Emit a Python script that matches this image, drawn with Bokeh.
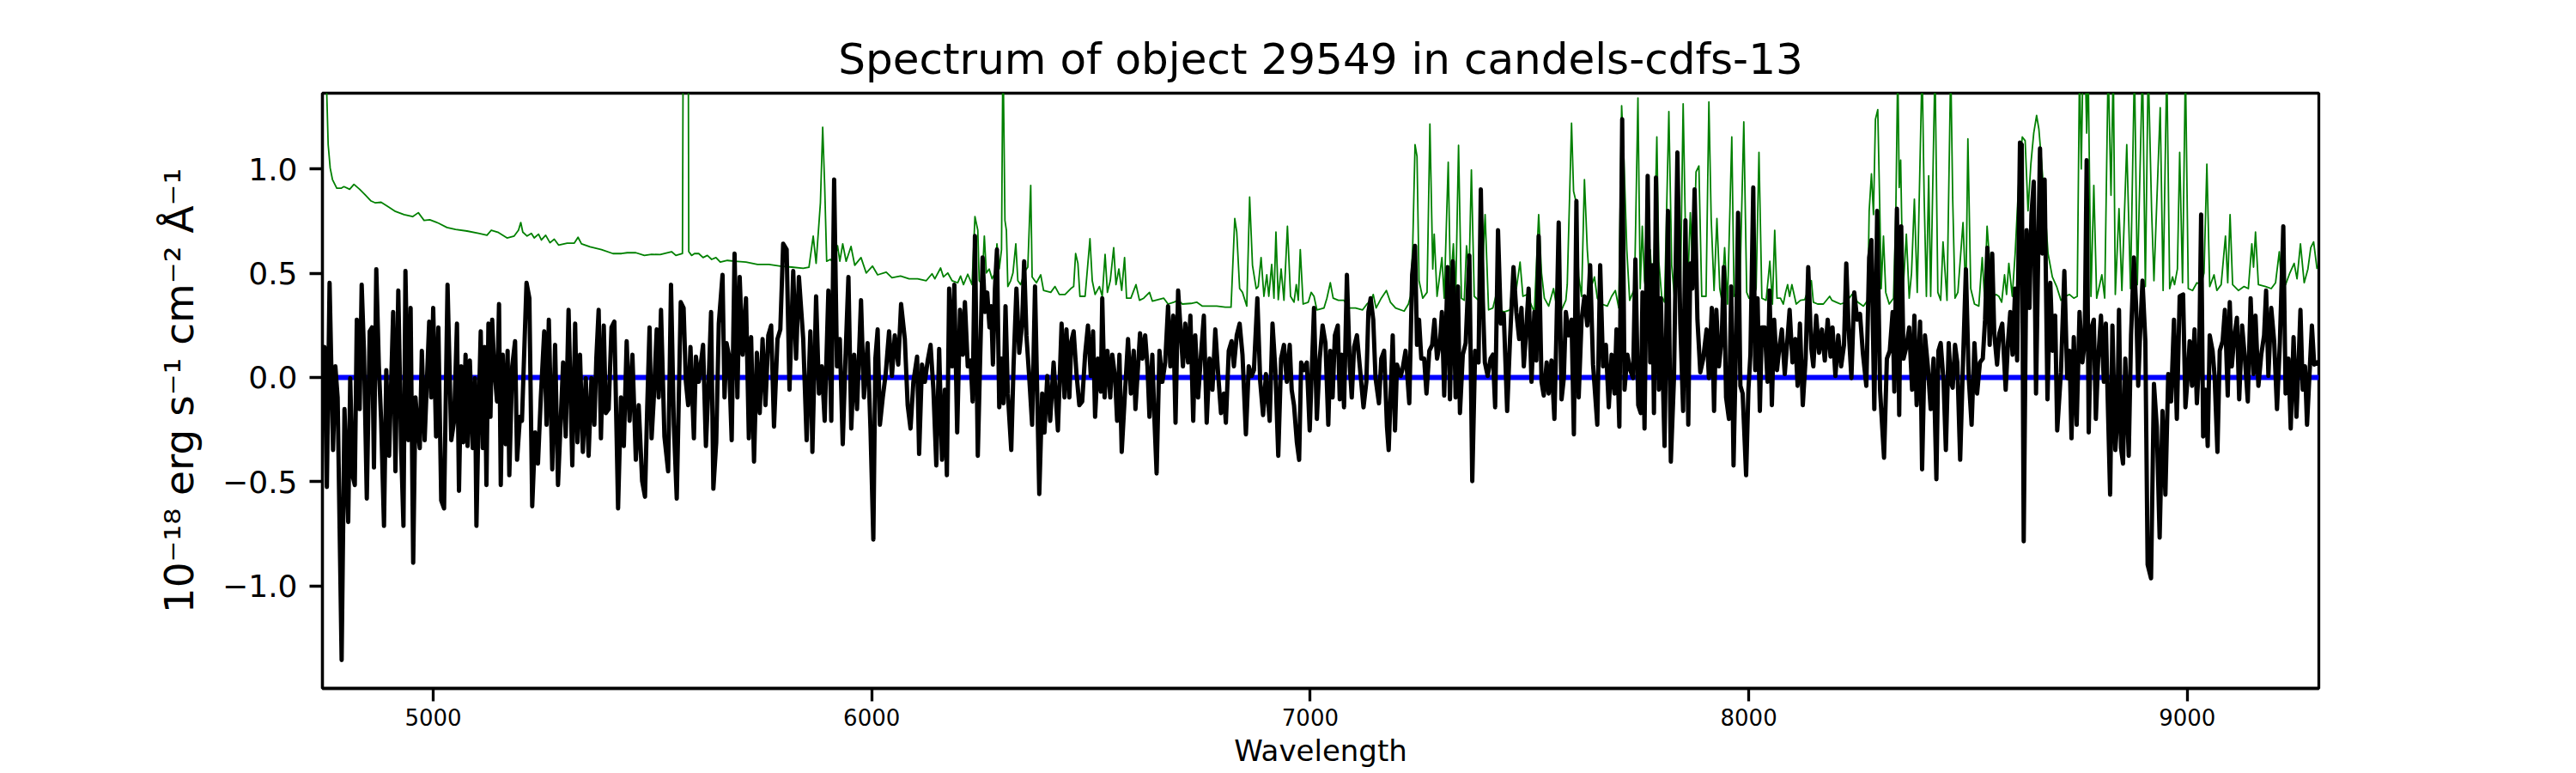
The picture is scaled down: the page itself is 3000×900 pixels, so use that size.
from bokeh.plotting import figure
from bokeh.models import Range1d, FixedTicker, CustomJSTickFormatter
from bokeh.embed import file_html
from bokeh.resources import INLINE

title_text = "Spectrum of object 29549 in candels-cdfs-13"
x_label = "Wavelength"
y_label = "10\u207b\u00b9\u2078 erg s\u207b\u00b9 cm\u207b\u00b2 \u00c5\u207b\u00b9"
x_ticks = [5000, 6000, 7000, 8000, 9000]
y_ticks = [-1.0, -0.5, 0.0, 0.5, 1.0]

# observed spectrum (black)
black_wave = [
 4747.5,4752.1,4757.5,4763.7,4771.6,4776.9,4782.1,4791.2,4797.7,4806.2,4810.8,4816.0,4821.2,4825.8,4832.3,4836.9,
 4842.1,4848.6,4855.2,4860.4,4864.9,4870.2,4876.1,4881.3,4887.8,4893.0,4899.5,4908.7,4913.9,4920.4,4926.9,4932.2,
 4936.7,4943.3,4948.5,4954.4,4959.6,4964.8,4969.4,4974.1,4980.5,4990.9,4995.5,5000.0,5006.6,5011.8,5018.3,5024.8,
 5032.7,5041.2,5047.7,5054.2,5058.8,5064.0,5068.6,5073.8,5078.4,5083.6,5090.1,5095.3,5098.6,5103.2,5108.4,5113.0,
 5117.5,5121.4,5126.0,5130.6,5134.5,5139.0,5145.6,5150.1,5154.1,5158.6,5165.2,5169.7,5173.6,5180.2,5186.7,5191.3,
 5197.8,5202.4,5212.8,5219.3,5225.8,5232.4,5238.9,5245.4,5253.2,5258.5,5263.7,5271.5,5278.0,5284.6,5291.1,5296.3,
 5302.2,5308.7,5317.2,5323.7,5329.0,5334.8,5341.3,5347.9,5354.4,5360.9,5367.5,5372.0,5377.3,5382.5,5389.0,5393.6,
 5400.1,5406.6,5413.1,5421.6,5428.2,5434.7,5441.2,5447.8,5454.3,5462.1,5468.6,5476.5,5483.0,5488.2,5493.4,5498.0,
 5503.1,5509.7,5514.2,5519.5,5527.3,5535.8,5542.3,5548.8,5555.4,5564.5,5571.0,5576.2,5581.5,5586.7,5594.5,5599.1,
 5605.6,5615.4,5621.9,5628.4,5633.7,5638.9,5645.4,5651.3,5659.8,5664.3,5668.9,5674.1,5680.7,5687.2,5693.7,5698.9,
 5705.5,5713.3,5719.8,5725.0,5731.6,5738.1,5744.6,5751.1,5757.7,5764.2,5770.7,5777.2,5785.1,5791.6,5798.1,5806.0,
 5812.5,5821.0,5827.5,5834.0,5843.8,5851.6,5860.1,5864.7,5873.2,5879.7,5886.2,5892.7,5901.2,5907.8,5914.3,5920.8,
 5927.3,5933.9,5940.4,5946.9,5953.4,5960.0,5966.5,5975.6,5982.2,5990.6,5997.2,6003.7,6008.3,6013.5,6018.7,6025.2,
 6031.8,6039.6,6046.1,6052.6,6060.5,6067.0,6075.5,6082.0,6088.5,6095.0,6103.5,6108.1,6114.6,6121.2,6127.7,6134.2,
 6140.7,6147.3,6153.8,6160.3,6166.8,6171.4,6176.6,6183.2,6188.4,6194.9,6201.4,6208.0,6212.5,6219.0,6225.6,6230.1,
 6235.4,6241.9,
 6252.9,6258.2,6263.4,6268.6,6272.5,6276.4,6281.0,6285.6,6290.8,6296.0,6300.6,6305.1,6310.4,6318.2,6323.4,6330.0,
 6336.5,6343.0,6347.6,6352.8,6359.3,6365.8,6372.4,6382.1,6388.7,6393.9,6400.4,6407.0,6414.8,6424.6,6433.0,6439.6,
 6444.1,6450.7,6455.2,6460.5,6467.0,6473.5,6480.0,6486.6,6493.1,6499.6,6504.8,6509.4,6515.9,6522.5,6525.7,6531.0,
 6537.5,6544.0,6548.6,6555.1,6559.6,6564.9,6570.1,6577.9,6584.5,6591.0,6597.5,6601.4,6607.3,6611.9,6617.1,6623.6,
 6628.8,6633.4,6639.9,6644.5,6649.7,6656.2,6662.8,6669.3,6675.8,6681.0,6687.6,6692.8,6698.7,6705.2,6709.7,6715.0,
 6721.5,6726.7,6733.2,6737.8,6744.3,6750.9,6757.4,6763.9,6770.4,6777.0,6783.5,6790.0,6796.5,6803.1,6807.6,6814.2,
 6820.7,6825.9,6832.4,6839.0,6845.5,6853.3,6859.8,6866.4,6871.6,6879.4,6886.0,6892.5,6899.0,6907.5,6914.0,6920.5,
 6927.1,6933.6,6940.1,6946.6,6953.2,6957.7,6963.0,6969.5,6974.7,6979.3,6985.8,6992.3,6998.8,
 7008.6,7015.1,7021.6,7028.2,7034.7,7041.2,7045.8,7051.0,7056.2,7062.8,7067.3,7071.9,7077.1,7083.6,7090.2,7094.7,
 7100.0,7106.5,7113.0,7121.5,7128.0,7132.6,7137.8,7143.7,7148.9,7156.7,7162.0,7168.5,7175.0,7178.9,7188.1,7193.3,
 7197.8,7206.3,7210.9,7217.4,7225.9,7232.4,7239.0,7243.5,7248.1,7253.3,7259.8,7265.1,7271.6,7278.1,7283.3,7289.2,
 7295.7,7300.3,7305.5,7313.4,7318.6,7325.1,7331.6,7336.8,7341.4,7347.9,7354.5,7362.9,7369.5,7376.0,7383.8,7389.0,
 7393.6,7398.2,7404.7,7411.2,7416.5,7421.7,7428.2,7434.7,7441.3,7449.1,7455.6,7463.5,7470.0,7476.5,7481.7,7487.0,
 7491.5,7498.0,7504.6,7511.1,7515.7,7520.9,7527.4,7532.6,7539.2,7543.7,7550.2,7556.8,7561.3,7566.6,7573.1,7578.3,
 7582.9,7589.4,7595.9,7601.2,7607.0,7612.2,7618.8,7625.3,7631.8,7638.3,7644.9,7654.6,7661.2,7667.7,7674.2,7680.8,
 7687.3,7693.8,7698.4,7704.9,7711.4,7716.7,7723.2,7729.7,7736.2,7741.5,7748.0,
 7753.8,7757.7,7762.3,7769.5,7775.3,7779.9,7783.8,7788.4,7794.9,7799.5,7808.0,7815.8,7822.3,7829.5,7837.3,7843.9,
 7850.4,7855.6,7862.1,7866.7,7871.3,7876.5,7883.0,7889.5,7896.1,7903.9,7909.1,7915.7,7920.9,7926.1,7932.0,7938.5,
 7943.1,7948.3,7954.8,7960.0,7965.3,7971.1,7975.7,7980.9,7986.1,7994.0,7999.2,8003.8,8010.3,8014.8,8020.1,8025.3,
 8029.9,8036.4,8042.9,8047.5,8052.7,8057.9,8064.4,8069.0,8075.5,8082.1,8088.6,8093.2,8099.7,8106.2,8111.4,8116.7,
 8123.2,8129.7,8135.6,8142.8,8147.3,8153.8,8160.4,8166.9,8173.4,8180.0,8186.5,8191.0,8197.6,8204.1,8210.6,8217.2,
 8222.4,8227.6,8234.1,8240.6,8247.2,8253.7,8260.2,8268.1,8274.6,8279.8,8286.3,8292.9,8299.4,8308.5,8315.0,8321.6,
 8328.1,8332.0,8337.9,8343.1,8347.7,8352.9,8359.4,8365.9,8372.5,8377.7,8382.9,8390.7,8395.3,8401.8,8408.4,8414.9,
 8421.4,8427.9,8432.5,8437.7,8444.3,8449.5,8456.0,8460.6,8465.1,8470.4,8475.6,8482.1,8488.6,8495.2,8501.7,8508.2,
 8514.7,
 8520.7,8527.2,8533.7,8538.9,8544.1,8549.4,8555.2,8559.8,8566.3,8571.6,8578.1,8585.9,8591.1,8596.4,8601.6,8607.5,
 8612.0,8618.5,8622.5,8627.0,8633.6,8640.1,8644.6,8649.9,8655.1,8660.3,8664.2,8669.5,8674.7,8681.2,8687.7,8692.9,
 8698.8,8703.4,8711.9,8719.7,8726.2,8731.5,8736.0,8741.2,8747.8,8754.3,8760.8,8766.0,8770.6,8775.2,8780.4,8786.9,
 8791.5,8796.7,8803.2,8809.8,8814.3,8819.6,8824.1,8829.3,8835.9,8840.4,8844.3,8848.9,8853.5,8858.7,8866.5,8871.8,
 8878.3,8883.5,8888.1,8892.6,8897.9,8904.4,8909.6,8917.4,8924.0,8930.5,8937.0,8943.5,8950.1,8956.6,8963.1,8969.7,
 8976.2,8982.7,8990.5,8995.8,9001.0,9005.5,9010.8,9016.6,9021.9,9027.1,9031.6,9036.2,9041.4,9046.6,9051.2,9057.7,
 9062.3,9068.8,9074.1,9080.6,9085.8,9092.3,9096.9,9101.5,9106.7,9113.2,9118.4,9125.0,9131.5,9138.0,9144.5,9151.1,
 9155.6,9162.2,9168.7,9175.2,9179.8,9185.0,9191.5,9198.1,9204.6,9211.1,9219.0,9224.2,9230.7,9235.9,9242.4,9249.0,
 9253.5,9258.1,9263.3,9268.5,9273.1,9279.6,9284.2,9289.4,9295.9,9300.0,
]
black_flux = [
 -0.133,0.146,-0.525,0.454,-0.348,0.053,-0.096,-1.355,-0.152,-0.693,-0.003,-0.469,-0.516,0.277,-0.152,0.445,
 0.128,-0.581,0.221,0.240,-0.432,0.519,0.053,-0.208,-0.712,0.035,-0.376,0.314,-0.450,0.417,-0.339,-0.712,
 0.510,-0.301,0.333,-0.889,-0.096,-0.245,-0.339,0.128,-0.301,0.268,-0.096,0.333,-0.283,0.240,-0.590,-0.628,
 0.445,-0.301,-0.208,0.258,-0.544,0.053,-0.311,0.109,-0.329,0.081,-0.339,-0.003,-0.712,-0.208,0.221,-0.339,
 0.146,-0.516,0.258,-0.189,0.277,0.053,-0.115,0.352,-0.516,0.109,-0.320,0.128,-0.469,0.053,0.174,-0.395,
 -0.189,-0.208,0.454,0.380,-0.618,-0.264,-0.413,-0.096,0.221,-0.227,0.277,-0.441,0.156,-0.516,-0.189,0.072,
 -0.283,0.324,-0.422,0.258,-0.311,0.109,-0.357,-0.003,-0.376,-0.003,-0.227,0.090,0.324,-0.292,0.249,-0.171,
 -0.152,0.240,0.268,-0.628,-0.096,-0.329,0.174,-0.208,0.109,-0.395,-0.133,-0.497,-0.572,-0.133,0.240,-0.292,
 -0.096,0.230,-0.096,0.324,-0.283,-0.450,0.445,-0.227,-0.581,0.361,0.333,-0.021,-0.133,0.146,-0.292,0.100,
 -0.021,0.156,-0.329,-0.003,0.314,-0.534,-0.311,0.258,0.492,-0.096,0.165,0.109,-0.301,0.594,-0.096,0.482,
 0.109,0.380,-0.292,0.193,-0.404,0.118,-0.171,0.184,-0.133,0.202,0.249,-0.236,0.184,0.230,0.641,0.613,
 -0.059,0.510,0.090,0.482,0.184,-0.301,0.221,-0.357,0.389,-0.077,0.053,-0.208,0.417,-0.208,0.949,0.053,
 0.184,-0.320,0.109,0.482,-0.245,0.109,-0.152,0.370,-0.096,0.165,-0.245,-0.777,0.090,0.230,-0.227,-0.096,
 0.016,0.221,0.007,0.202,0.062,0.352,0.184,-0.133,-0.245,-0.021,0.100,-0.367,0.062,-0.021,0.081,0.156,
 -0.059,-0.422,0.137,-0.395,-0.059,-0.469,0.426,0.053,0.445,-0.264,0.324,0.109,0.361,0.053,0.081,-0.115,
 0.678,-0.376,
 0.575,0.314,0.407,0.240,0.342,0.062,0.426,0.613,-0.143,0.090,-0.124,0.342,-0.077,-0.348,0.053,0.426,
 0.118,0.258,0.557,0.202,-0.003,-0.227,0.436,-0.559,-0.077,-0.264,0.007,-0.208,0.072,-0.254,0.258,-0.096,
 0.230,-0.096,0.174,0.221,0.016,-0.133,-0.115,0.109,0.249,0.007,0.221,-0.189,0.090,-0.068,0.380,-0.096,
 0.128,-0.096,0.109,-0.003,-0.208,0.109,-0.357,-0.059,0.184,-0.077,0.128,-0.152,0.053,0.212,0.090,0.202,
 0.053,-0.189,0.109,-0.189,-0.460,0.128,-0.021,0.072,0.342,0.053,0.296,-0.217,0.417,0.202,0.053,0.258,
 0.072,0.296,-0.208,0.202,-0.096,0.109,0.296,-0.217,0.090,-0.059,0.230,0.016,-0.171,-0.077,-0.217,0.128,
 0.174,0.053,0.202,0.258,0.109,-0.273,0.053,0.007,0.035,0.380,-0.021,-0.180,0.016,-0.208,0.258,0.035,
 -0.376,0.090,0.156,-0.021,0.156,-0.059,-0.133,-0.311,-0.395,0.072,0.035,0.072,-0.254,
 0.333,-0.199,0.090,0.249,0.165,-0.227,0.128,-0.096,0.202,0.249,-0.105,0.109,-0.143,0.492,0.053,-0.096,
 0.146,0.202,0.053,-0.143,-0.021,0.314,0.380,0.277,-0.003,-0.124,0.090,0.128,-0.236,-0.348,0.202,-0.254,
 0.062,0.007,0.044,0.128,-0.124,0.492,0.631,0.156,0.277,0.090,0.090,-0.077,0.128,0.156,0.277,0.090,
 0.165,0.314,-0.087,0.529,-0.105,0.557,-0.096,0.436,-0.171,0.109,0.165,0.585,-0.497,0.128,0.072,0.902,
 0.370,0.072,0.007,0.090,0.109,-0.143,0.706,0.258,0.305,-0.161,0.184,0.529,0.314,0.184,0.333,0.053,
 0.193,0.426,-0.021,0.314,0.081,0.678,-0.021,-0.087,0.072,-0.077,0.081,-0.199,0.202,0.743,-0.105,-0.003,
 0.314,0.202,0.277,-0.273,0.846,-0.096,0.277,0.389,0.249,0.538,0.062,-0.227,0.538,0.053,0.156,-0.143,
 0.109,-0.077,0.230,-0.236,1.238,-0.059,0.109,0.035,-0.003,0.566,-0.133,
 -0.171,0.408,-0.245,0.967,0.072,0.538,-0.171,0.958,-0.059,0.380,-0.329,0.799,-0.404,-0.003,1.079,0.258,
 -0.161,0.753,-0.227,0.547,0.426,0.902,0.277,0.025,0.090,0.230,-0.003,0.333,-0.161,0.324,0.053,0.193,
 0.529,-0.096,-0.199,0.436,-0.422,0.184,0.790,-0.040,-0.077,-0.469,-0.059,0.109,0.911,0.035,0.380,-0.161,
 0.240,0.240,-0.021,0.417,-0.133,0.277,0.035,0.128,0.230,0.016,0.193,0.324,0.072,0.184,-0.040,0.258,
 -0.133,0.090,0.529,0.137,0.053,0.296,0.118,0.230,0.081,0.277,0.100,0.240,0.007,0.202,0.053,0.156,
 0.547,0.240,-0.003,0.408,0.277,0.305,0.118,-0.040,0.575,0.659,-0.152,0.799,-0.059,-0.385,0.090,0.128,
 0.314,-0.068,0.809,-0.180,0.725,0.090,0.146,0.240,-0.059,0.296,-0.133,0.268,-0.441,0.202,0.053,-0.152,
 0.090,-0.488,0.128,0.165,-0.021,-0.348,0.165,-0.021,-0.049,0.156,0.072,-0.395,0.072,0.519,-0.003,-0.227,
 0.165,
 -0.077,0.072,0.090,0.277,0.622,0.156,0.594,0.212,0.062,0.212,0.258,-0.059,0.165,0.314,0.109,0.426,
 0.081,1.126,1.116,-0.786,0.706,0.333,0.781,0.939,-0.077,0.622,1.098,0.594,0.949,-0.105,0.454,0.128,
 0.296,-0.254,0.025,0.510,-0.003,0.128,-0.292,0.193,-0.227,0.314,0.072,0.165,1.042,-0.264,0.230,0.277,
 -0.199,0.081,0.296,-0.021,0.258,-0.189,-0.562,0.249,-0.348,-0.208,0.324,-0.339,-0.413,0.090,-0.376,0.202,
 0.575,0.333,-0.040,0.221,0.464,0.174,-0.898,-0.963,-0.031,-0.236,-0.768,-0.161,-0.562,0.016,-0.115,0.277,
 -0.199,0.389,0.398,-0.143,0.007,0.174,-0.040,0.230,-0.124,0.090,0.781,-0.283,-0.059,-0.329,0.202,0.128,
 0.007,-0.357,0.128,0.174,0.324,-0.087,0.361,0.053,0.184,0.286,-0.105,0.249,0.090,-0.115,0.380,0.016,
 0.296,-0.040,0.109,0.202,0.417,0.007,0.333,0.174,-0.152,0.165,0.725,-0.077,0.090,-0.245,0.193,-0.189,
 0.053,0.324,-0.059,0.053,-0.227,0.053,0.249,0.062,0.072,0.062,
]

# sky / noise spectrum (green)
green_wave = [
 4748.0,4757.3,4760.5,4765.1,4770.3,4780.1,4789.9,4796.4,4809.5,4819.3,4832.3,4845.4,4858.4,4868.2,4881.3,4897.6,
 4913.9,4933.5,4953.1,4966.1,4979.2,4992.2,5011.8,5031.4,5050.9,5077.1,5103.2,5122.7,5132.5,5148.8,5168.4,5184.7,
 5194.5,5199.7,5204.3,5214.1,5223.9,5230.4,5240.2,5246.7,5256.5,5266.3,5276.1,5285.9,5305.5,5321.8,5330.3,5338.1,
 5357.7,5383.8,5409.9,5429.5,5442.5,5462.1,5481.6,5498.0,
 5517.5,5543.6,5553.4,5568.4,5572.3,5580.1,5582.8,5589.3,5595.8,5605.6,5615.4,5625.2,5635.0,5644.8,5654.6,5670.9,
 5687.2,5713.3,5739.4,5765.5,5791.6,5817.7,5843.8,5856.9,5866.6,5873.2,5883.0,5888.2,5892.7,5897.3,5905.8,5914.3,
 5922.1,5927.3,5933.9,5941.7,5952.8,5961.3,5975.6,5987.4,6001.7,6013.5,6033.1,6046.1,6065.7,6085.3,6104.8,6124.4,
 6137.5,6144.0,6157.1,6163.6,6173.4,6183.2,6196.2,6202.7,6209.3,6219.0,6228.8,6235.4,6241.9,
 6245.1,6251.6,6256.8,6261.4,6267.9,6274.5,6281.0,6285.6,6290.8,6296.0,6299.3,6303.8,6307.1,6310.4,6316.9,6322.1,
 6328.6,6333.2,6339.7,6349.5,6356.0,6362.6,6365.8,6375.6,6385.4,6391.9,6408.3,6418.0,6427.8,6440.9,6453.9,6460.5,
 6465.0,6470.2,6474.8,6486.6,6497.7,6502.9,6509.4,6519.2,6525.7,6532.2,6537.5,6544.0,6551.8,6557.0,6563.6,6570.1,
 6576.6,6581.2,6591.0,6602.7,6610.6,6620.3,6633.4,6639.9,6653.0,6666.0,6675.8,6688.9,6698.7,6708.4,6728.0,6741.1,
 6754.1,6786.8,6806.3,6819.4,6827.9,6832.4,6839.0,6845.5,6855.3,6861.8,6868.3,6876.8,6881.4,6887.9,6894.4,6900.9,
 6905.5,6912.1,6917.3,6921.8,6927.1,6933.6,6940.1,6948.0,6955.1,6963.0,6968.2,6972.8,6977.3,6983.8,6995.6,7002.1,
 7008.6,7015.1,7031.4,7038.0,7045.8,7052.3,7064.1,7077.1,7086.9,7103.2,7119.5,7129.3,7139.1,7143.7,7150.2,7162.0,
 7173.7,7182.8,7194.6,7214.2,7223.9,7228.5,7233.7,7239.0,7243.5,7248.1,7256.6,7266.4,7272.9,7279.4,7282.7,7289.2,
 7293.8,7300.3,7305.5,7314.7,7319.9,7326.4,7331.6,7338.2,7344.7,7351.2,7356.4,7362.3,7367.5,7374.0,7383.8,7390.4,
 7398.8,7406.7,7416.5,7423.0,7429.5,7442.6,7455.6,7462.1,7470.0,7478.5,7485.0,7494.8,7501.3,7511.1,7520.9,7527.4,
 7533.9,7543.7,7554.8,7563.3,7573.1,7582.9,7586.1,7595.9,7600.5,7605.7,7612.2,7618.8,7625.3,7631.8,7638.3,7648.1,
 7654.6,7664.4,7677.5,7687.3,7695.8,7703.6,7710.1,7715.4,7721.9,7728.4,7739.5,7747.3,7752.5,7757.2,
 7762.3,7768.8,7775.3,7781.9,7790.4,7794.9,7801.4,7808.0,7817.8,7824.3,7830.8,7838.6,7843.9,7850.4,7855.6,7860.2,
 7866.7,7873.2,7879.8,7886.3,7892.8,7902.6,7909.1,7914.3,7920.9,7927.4,7933.9,7938.5,7945.0,7951.5,7961.3,7966.5,
 7974.4,7979.6,7988.7,7995.3,8000.5,8010.3,8016.8,8023.3,8029.9,8039.6,8048.1,8054.0,8059.2,8064.4,8072.3,8078.8,
 8084.0,8088.6,8093.2,8098.4,8108.2,8118.0,8127.7,8142.8,8147.3,8157.1,8170.2,8184.5,8189.7,8199.5,8209.3,8222.4,
 8235.4,8248.5,8261.5,8271.3,8274.6,8279.8,8284.4,8288.9,8294.2,8299.4,8302.0,8307.2,8312.4,8320.3,8330.1,8335.3,
 8339.8,8343.1,8346.4,8351.6,8359.4,8365.9,8371.2,8377.7,8384.2,8395.3,8399.9,8405.1,8410.3,8414.9,8424.7,8431.2,
 8437.7,8443.0,8452.1,8460.6,8465.1,8470.4,8476.9,8488.6,8495.2,8499.7,8506.2,8514.7,
 8524.6,8532.4,8537.6,8543.5,8548.7,8557.2,8563.7,8570.3,8576.8,8583.3,8587.9,8593.1,8600.9,8607.5,8617.2,8623.8,
 8630.3,8636.8,8643.3,8649.9,8656.4,8661.6,8668.1,8674.7,8682.5,8692.3,8702.1,8711.9,8721.7,8731.4,8741.2,8749.1,
 8754.3,8758.3,8762.1,8767.4,8770.6,8773.9,8780.4,8786.9,8793.4,8805.2,8811.7,8819.6,8826.1,8831.3,8835.9,8844.3,
 8850.9,8862.0,8870.5,8879.6,8886.1,8897.9,8904.4,8910.9,8918.7,8924.0,8938.3,8944.9,8953.3,8959.9,8966.4,8971.0,
 8977.5,8982.7,8989.2,8995.8,9002.3,9012.1,9021.9,9031.6,9038.2,9044.7,9051.2,9061.0,9067.5,9077.3,9087.1,9092.3,
 9097.6,9103.4,9116.5,9129.5,9139.3,9147.2,9151.1,9155.6,9162.2,9178.5,9191.5,9201.3,9209.8,9214.4,9224.2,9233.9,
 9243.7,9250.3,9258.1,9266.6,9275.1,9281.6,9288.1,9295.9,
]
green_flux = [
 1.600,1.360,1.116,1.004,0.949,0.907,0.907,0.915,0.902,0.926,0.902,0.874,0.846,0.837,0.840,0.818,
 0.796,0.781,0.771,0.790,0.753,0.756,0.740,0.719,0.710,0.702,0.691,0.682,0.706,0.695,0.669,0.678,
 0.706,0.743,0.697,0.678,0.691,0.669,0.687,0.659,0.682,0.646,0.663,0.635,0.644,0.644,0.672,0.641,
 0.626,0.613,0.594,0.594,0.598,0.598,0.585,0.590,
 0.589,0.603,0.585,0.594,3.000,3.000,0.603,0.585,0.594,0.594,0.575,0.585,0.566,0.575,0.553,0.561,
 0.557,0.553,0.542,0.542,0.534,0.529,0.523,0.529,0.678,0.547,0.837,1.200,0.921,0.557,0.566,0.547,
 0.631,0.557,0.641,0.557,0.628,0.538,0.575,0.501,0.534,0.492,0.505,0.478,0.486,0.473,0.473,0.464,
 0.497,0.473,0.525,0.482,0.501,0.464,0.454,0.486,0.445,0.495,0.445,0.771,0.706,
 0.464,0.445,0.678,0.501,0.520,0.473,0.501,0.641,0.520,0.613,1.600,0.753,0.706,0.436,0.464,0.501,
 0.641,0.464,0.445,0.510,0.529,0.921,0.482,0.454,0.492,0.417,0.408,0.436,0.398,0.398,0.426,0.436,
 0.594,0.547,0.389,0.389,0.665,0.464,0.398,0.436,0.389,0.590,0.408,0.464,0.622,0.445,0.520,0.417,
 0.575,0.380,0.380,0.445,0.370,0.380,0.408,0.366,0.373,0.380,0.352,0.361,0.370,0.352,0.355,0.361,
 0.342,0.342,0.337,0.337,0.762,0.697,0.426,0.408,0.342,0.865,0.538,0.426,0.436,0.575,0.389,0.492,
 0.389,0.542,0.380,0.697,0.373,0.520,0.370,0.725,0.389,0.361,0.445,0.370,0.613,0.352,0.361,0.408,
 0.389,0.324,0.333,0.380,0.454,0.380,0.370,0.370,0.333,0.333,0.324,0.352,0.370,0.398,0.333,0.380,
 0.417,0.361,0.333,0.318,0.352,0.389,0.631,1.116,1.060,0.464,0.380,0.408,1.215,0.520,0.687,0.389,
 0.464,0.575,0.380,1.032,0.426,0.641,0.380,1.113,0.380,0.370,0.631,0.501,0.995,0.389,0.370,0.408,
 0.781,0.324,0.333,0.389,0.324,0.314,0.324,0.482,0.426,0.553,0.389,0.398,0.361,0.314,0.781,0.501,
 0.380,0.342,0.426,0.324,0.324,0.370,0.445,1.219,0.893,0.846,0.482,0.389,0.949,0.613,0.417,0.482,
 0.380,0.352,0.342,0.389,0.417,0.333,1.303,1.042,0.613,0.370,0.426,1.340,0.426,0.725,
 0.464,0.370,0.613,0.361,1.153,0.557,0.389,0.361,1.275,0.538,0.380,0.501,0.380,1.312,0.706,0.380,
 0.790,0.464,0.986,1.014,0.389,0.389,1.321,0.762,0.417,0.762,0.426,0.370,0.622,0.352,1.153,0.389,
 0.408,0.426,1.225,0.408,0.380,0.380,0.426,1.079,0.380,0.370,0.557,0.352,0.706,0.380,0.380,0.352,
 0.408,0.445,0.389,0.445,0.352,0.370,0.373,0.464,0.361,0.352,0.352,0.389,0.370,0.361,0.352,0.361,
 0.398,0.361,0.342,0.370,0.799,0.976,0.781,1.238,1.284,0.743,0.426,0.678,0.408,0.352,0.380,0.781,
 1.500,0.911,1.042,0.408,0.687,0.380,0.501,0.855,0.408,1.500,0.874,0.389,0.967,0.389,1.500,0.408,
 0.370,0.650,0.370,1.500,0.855,0.380,0.408,0.743,0.389,1.144,0.426,0.352,
 0.342,0.575,0.389,0.725,0.575,0.380,0.398,0.389,0.361,0.492,0.398,0.547,0.389,0.594,1.004,1.153,
 1.135,0.799,1.023,1.172,1.256,1.191,1.023,0.837,0.594,0.482,0.436,0.370,0.389,0.398,0.380,0.389,
 1.500,1.000,1.500,1.500,1.172,1.500,0.389,0.921,0.380,0.492,0.380,1.500,0.874,1.500,0.398,0.809,
 0.417,1.116,0.426,1.500,0.445,1.500,0.436,1.500,0.799,0.464,1.293,0.417,1.500,0.426,0.482,0.445,
 0.520,1.079,0.454,1.500,0.426,0.417,0.454,0.445,0.501,1.023,0.436,0.492,0.417,0.445,0.678,0.454,
 0.781,0.445,0.417,0.436,0.426,0.641,0.529,0.697,0.445,0.436,0.426,0.454,0.603,0.464,0.445,0.501,
 0.547,0.473,0.641,0.454,0.520,0.622,0.650,0.520,
]

# zero level (blue)
zero_wave = [4747.4, 9300.0]
zero_flux = [0.0, 0.0]

FONT = "DejaVu Sans"

p = figure(width=3000, height=900, output_backend="svg", toolbar_location=None,
           x_range=Range1d(4747.4, 9300.0), y_range=Range1d(-1.491, 1.363),
           min_border_left=375, min_border_right=300, min_border_top=108, min_border_bottom=99)

p.line(green_wave, green_flux, line_color="#008000", line_width=1.8, line_join="round")
p.line(zero_wave, zero_flux, line_color="#0000ff", line_width=6)
p.line(black_wave, black_flux, line_color="#000000", line_width=5, line_join="round")

p.title.text = title_text
p.title.text_font = FONT
p.title.text_font_size = "50px"
p.title.text_font_style = "normal"
p.title.align = "center"
p.title.text_color = "#000000"
p.title.standoff = 22

p.xgrid.visible = False
p.ygrid.visible = False
p.outline_line_color = "#000000"
p.outline_line_width = 3.3
p.outline_line_alpha = 1.0
p.background_fill_color = "white"
p.border_fill_color = "white"

for ax in (p.xaxis[0], p.yaxis[0]):
    ax.axis_line_color = "#000000"
    ax.axis_line_width = 3.3
    ax.major_tick_line_color = "#000000"
    ax.major_tick_line_width = 3.3
    ax.major_tick_out = 15
    ax.major_tick_in = 0
    ax.minor_tick_line_color = None
    ax.major_label_text_font = FONT
    ax.major_label_text_color = "#000000"
    ax.axis_label_text_font = FONT
    ax.axis_label_text_font_style = "normal"
    ax.axis_label_text_color = "#000000"

p.xaxis.ticker = FixedTicker(ticks=x_ticks)
p.xaxis.major_label_text_font_size = "26px"
p.xaxis.major_label_standoff = 8
p.xaxis.axis_label = x_label
p.xaxis.axis_label_text_font_size = "34px"
p.xaxis.axis_label_standoff = 6

p.yaxis.ticker = FixedTicker(ticks=y_ticks)
p.yaxis.formatter = CustomJSTickFormatter(code="return (tick < 0 ? '\\u2212' : '') + Math.abs(tick).toFixed(1);")
p.yaxis.major_label_text_font_size = "36px"
p.yaxis.major_label_standoff = 14
p.yaxis.axis_label = y_label
p.yaxis.axis_label_text_font_size = "47px"
p.yaxis.axis_label_standoff = 20

open("out.html", "w").write(file_html(p, INLINE))
